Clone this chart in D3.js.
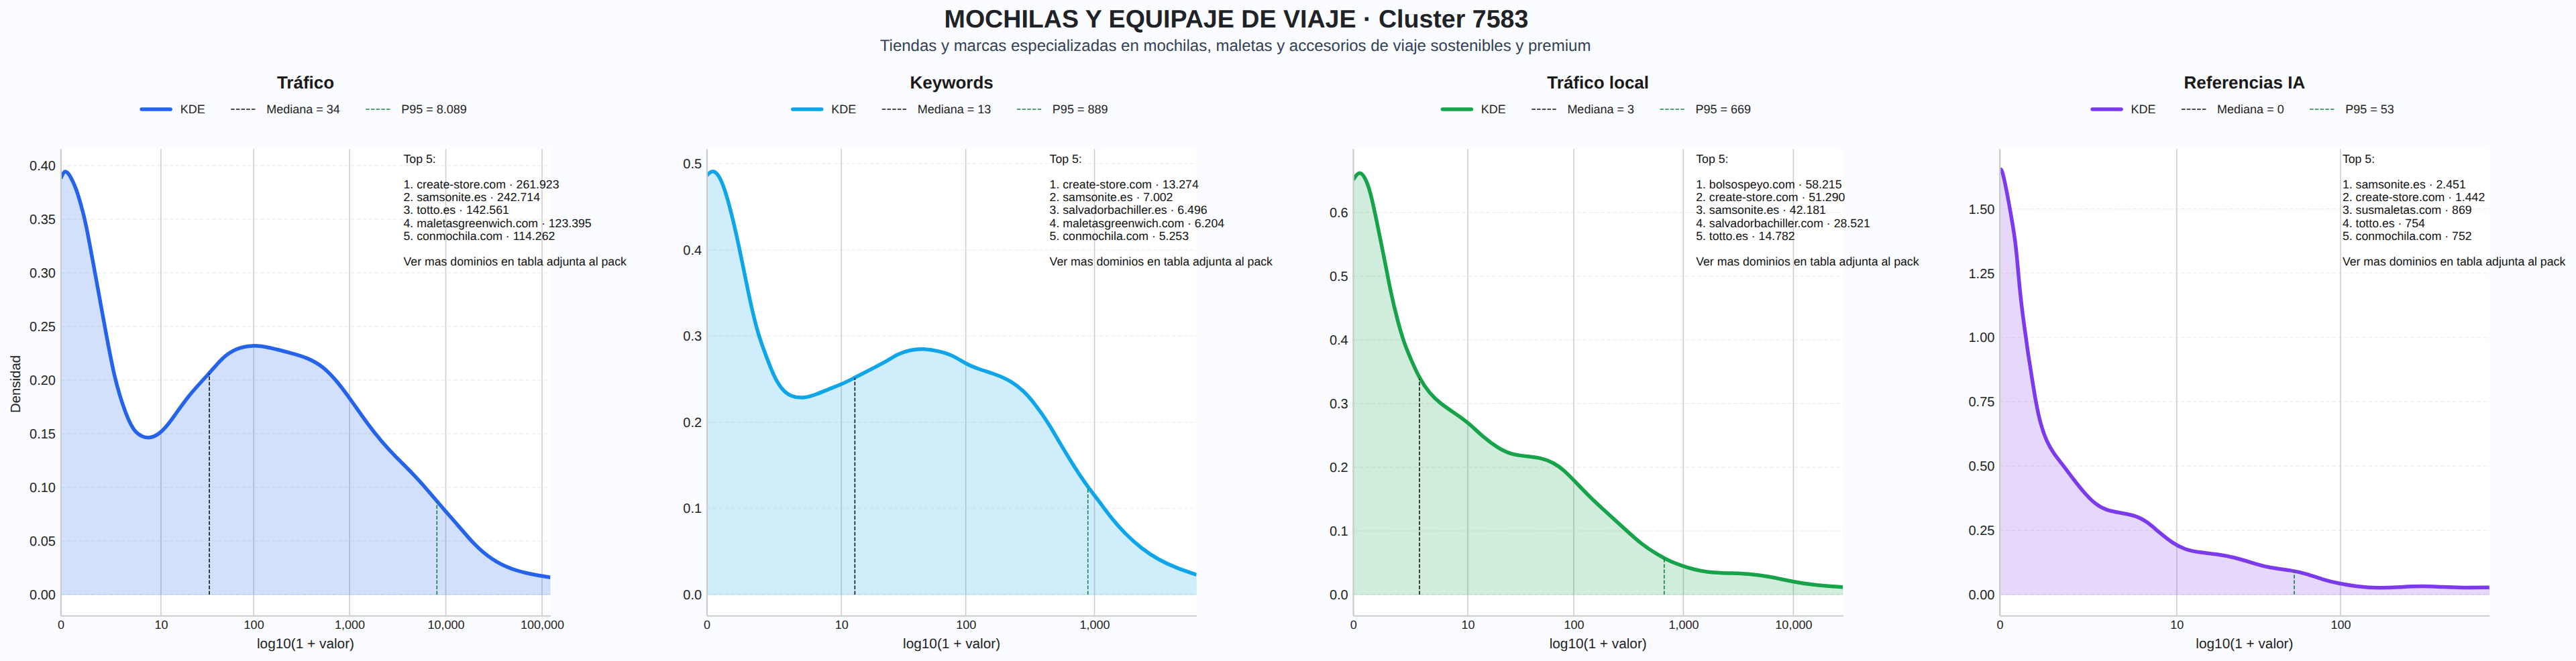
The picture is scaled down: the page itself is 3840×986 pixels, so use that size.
<!DOCTYPE html>
<html>
<head>
<meta charset="utf-8">
<script src="https://cdn.jsdelivr.net/npm/d3@7/dist/d3.min.js"></script>
<style>
  html, body { margin: 0; padding: 0; background: #fafcff; }
  svg { display: block; font-family: "Liberation Sans", Arial, sans-serif; text-rendering: geometricPrecision; }
</style>
</head>
<body>
<div id="chart"></div>
<script>
// values: x is log10(1 + valor), y is density
const traficoX = [0,0.044,0.102,0.16,0.213,0.258,0.356,0.458,0.56,0.68,0.77,0.916,1.05,1.17,1.325,1.547,1.68,1.814,1.992,2.17,2.39,2.57,2.726,2.88,3.015,3.19,3.34,3.48,3.66,3.815,3.97,4.126,4.3,4.48,4.66,4.88,5.087];
const traficoY = [0.388,0.397,0.39,0.379,0.3627,0.348,0.3,0.25,0.2,0.167,0.15,0.1444,0.151,0.165,0.1856,0.2065,0.221,0.2294,0.2329,0.2304,0.2252,0.2206,0.2127,0.198,0.1815,0.1587,0.1419,0.1283,0.1127,0.097,0.0804,0.0648,0.046,0.0325,0.0242,0.0189,0.016];
const keywordsX = [0,0.046,0.103,0.152,0.202,0.252,0.301,0.351,0.4,0.457,0.516,0.576,0.649,0.748,0.848,0.947,1.043,1.146,1.278,1.41,1.477,1.576,1.675,1.79,1.907,2.007,2.106,2.238,2.354,2.454,2.536,2.636,2.735,2.834,2.95,3.033,3.132,3.232,3.364,3.497,3.629,3.79];
const keywordsY = [0.4862,0.4935,0.485,0.4642,0.4357,0.402,0.3657,0.3297,0.3009,0.2776,0.2543,0.2387,0.2296,0.2276,0.2322,0.2387,0.2439,0.2517,0.262,0.2724,0.2791,0.2841,0.2854,0.2828,0.2776,0.2674,0.2615,0.2556,0.2478,0.2362,0.2219,0.2011,0.1752,0.1506,0.1246,0.1091,0.0884,0.0715,0.0534,0.0404,0.0313,0.0231];
const localX = [0,0.058,0.121,0.167,0.226,0.284,0.342,0.4,0.459,0.517,0.603,0.693,0.79,0.926,1.043,1.179,1.315,1.432,1.568,1.704,1.821,1.918,2.016,2.152,2.307,2.463,2.619,2.774,2.891,3.008,3.125,3.241,3.397,3.591,3.786,3.981,4.175,4.45];
const localY = [0.6509,0.6667,0.6509,0.6246,0.5755,0.5264,0.4738,0.4317,0.3966,0.3721,0.3388,0.316,0.3001,0.2844,0.2704,0.2476,0.2301,0.2202,0.2171,0.2149,0.2073,0.195,0.1775,0.1529,0.1284,0.1038,0.0792,0.0618,0.0512,0.0442,0.0382,0.035,0.0337,0.033,0.0284,0.0207,0.015,0.0119];
const iaX = [0,0.012,0.043,0.0753,0.0966,0.1176,0.1424,0.1684,0.1917,0.2126,0.2402,0.276,0.318,0.371,0.434,0.497,0.56,0.624,0.709,0.804,0.868,0.9416,1.016,1.09,1.174,1.28,1.385,1.47,1.575,1.723,1.808,1.892,1.998,2.104,2.23,2.357,2.484,2.61,2.716,2.88];
const iaY = [1.65,1.662,1.565,1.444,1.357,1.183,1.053,0.931,0.835,0.748,0.662,0.596,0.548,0.505,0.4485,0.396,0.353,0.3285,0.318,0.307,0.2834,0.24,0.2008,0.1747,0.1643,0.1573,0.1442,0.127,0.1051,0.0939,0.0808,0.06,0.0425,0.0313,0.0253,0.0295,0.0339,0.0295,0.0269,0.0279];

const titles = ["Tráfico", "Keywords", "Tráfico local", "Referencias IA"];
const colors = ["#2563eb", "#0ea5e9", "#16a34a", "#7c3aed"];
const medians = [34, 13, 3, 0];
const p95s = [8089, 889, 669, 53];
const p95Labels = ["8.089", "889", "669", "53"];
const xTicks = [
  [0, 10, 100, 1000, 10000, 100000],
  [0, 10, 100, 1000],
  [0, 10, 100, 1000, 10000],
  [0, 10, 100]
];
const yTicks = [
  [0, 0.05, 0.1, 0.15, 0.2, 0.25, 0.3, 0.35, 0.4],
  [0, 0.1, 0.2, 0.3, 0.4, 0.5],
  [0, 0.1, 0.2, 0.3, 0.4, 0.5, 0.6],
  [0, 0.25, 0.5, 0.75, 1, 1.25, 1.5]
];
const yFormats = [".2f", ".1f", ".1f", ".2f"];
const xMax = [5.087, 3.79, 4.45, 2.88];
const yDomains = [[-0.0196, 0.4154], [-0.0243, 0.5169], [-0.0329, 0.6993], [-0.0816, 1.7332]];
const topLines = [
  ["1. create-store.com · 261.923", "2. samsonite.es · 242.714", "3. totto.es · 142.561", "4. maletasgreenwich.com · 123.395", "5. conmochila.com · 114.262"],
  ["1. create-store.com · 13.274", "2. samsonite.es · 7.002", "3. salvadorbachiller.es · 6.496", "4. maletasgreenwich.com · 6.204", "5. conmochila.com · 5.253"],
  ["1. bolsospeyo.com · 58.215", "2. create-store.com · 51.290", "3. samsonite.es · 42.181", "4. salvadorbachiller.com · 28.521", "5. totto.es · 14.782"],
  ["1. samsonite.es · 2.451", "2. create-store.com · 1.442", "3. susmaletas.com · 869", "4. totto.es · 754", "5. conmochila.com · 752"]
];
const seriesX = [traficoX, keywordsX, localX, iaX];
const seriesY = [traficoY, keywordsY, localY, iaY];

const W = 3840, H = 986;
const panelLeft = [90.5, 1053.6, 2017.2, 2980.9];
const panelW = 730, panelTop = 222.3, panelBottom = 918.3;

const svg = d3.select("#chart").append("svg").attr("width", W).attr("height", H);
svg.append("rect").attr("width", W).attr("height", H).attr("fill", "#fafcff");

svg.append("text").attr("x", 1843).attr("y", 28).attr("text-anchor", "middle")
  .attr("dominant-baseline", "central")
  .attr("font-size", 37.6).attr("font-weight", "bold").attr("fill", "#1f2328")
  .text("MOCHILAS Y EQUIPAJE DE VIAJE · Cluster 7583");
svg.append("text").attr("x", 1841.6).attr("y", 68).attr("text-anchor", "middle")
  .attr("dominant-baseline", "central")
  .attr("font-size", 24).attr("fill", "#334155")
  .text("Tiendas y marcas especializadas en mochilas, maletas y accesorios de viaje sostenibles y premium");

// density at a given x, only used for the height of the marker lines
const densityAt = (xs, ys, v) => {
  const i = Math.min(Math.max(d3.bisectLeft(xs, v), 1), xs.length - 1);
  const t = (v - xs[i - 1]) / (xs[i] - xs[i - 1]);
  return ys[i - 1] + t * (ys[i] - ys[i - 1]);
};

titles.forEach((title, p) => {
  const g = svg.append("g").attr("transform", `translate(${panelLeft[p]},0)`);
  const x = d3.scaleLinear().domain([0, xMax[p]]).range([0, panelW]);
  const y = d3.scaleLinear().domain(yDomains[p]).range([panelBottom, panelTop]);
  const pts = d3.zip(seriesX[p], seriesY[p]);
  const logv = v => Math.log10(1 + v);

  g.append("rect").attr("y", panelTop).attr("width", panelW).attr("height", panelBottom - panelTop).attr("fill", "#fff");

  // grid
  g.append("g").selectAll("line").data(yTicks[p]).join("line")
    .attr("x1", 0).attr("x2", panelW).attr("y1", d => y(d)).attr("y2", d => y(d))
    .attr("stroke", "#f0f0f0").attr("stroke-width", 1.5).attr("stroke-dasharray", "6,3");
  g.append("g").selectAll("line").data(xTicks[p]).join("line")
    .attr("x1", d => x(logv(d))).attr("x2", d => x(logv(d)))
    .attr("y1", panelTop).attr("y2", panelBottom)
    .attr("stroke", "#cccccc").attr("stroke-width", 1.5);

  // kde
  const area = d3.area().x(d => x(d[0])).y0(y(0)).y1(d => y(d[1])).curve(d3.curveBasis);
  const line = d3.line().x(d => x(d[0])).y(d => y(d[1])).curve(d3.curveBasis);
  const clipId = `clip-${p}`;
  g.append("clipPath").attr("id", clipId).append("rect")
    .attr("y", panelTop).attr("width", panelW).attr("height", panelBottom - panelTop);
  const plot = g.append("g").attr("clip-path", `url(#${clipId})`);
  plot.append("path").datum(pts).attr("d", area)
    .attr("fill", colors[p]).attr("fill-opacity", 0.2)
    .attr("stroke", colors[p]).attr("stroke-opacity", 0.12).attr("stroke-width", 1.5);
  plot.append("path").datum(pts).attr("d", line)
    .attr("fill", "none").attr("stroke", colors[p]).attr("stroke-width", 5.5);

  // marker lines, from the baseline up to the curve
  [[medians[p], "#111111"], [p95s[p], "#15803d"]].forEach(([v, col]) => {
    const lx = logv(v);
    plot.append("line")
      .attr("x1", x(lx)).attr("x2", x(lx))
      .attr("y1", y(0)).attr("y2", y(densityAt(seriesX[p], seriesY[p], lx)))
      .attr("stroke", col).attr("stroke-width", 1.6).attr("stroke-dasharray", "5.5,2.5");
  });

  // axes
  const xAxis = d3.axisBottom(x).tickValues(xTicks[p].map(logv)).tickSize(0).tickPadding(7)
    .tickFormat((d, i) => d3.format(",")(xTicks[p][i]));
  const yAxis = d3.axisLeft(y).tickValues(yTicks[p]).tickSize(0).tickPadding(7.5)
    .tickFormat(d3.format(yFormats[p]));
  const gx = g.append("g").attr("transform", `translate(0,${panelBottom})`).call(xAxis);
  const gy = g.append("g").call(yAxis);
  [gx, gy].forEach((a, i) => {
    a.selectAll(".domain").attr("stroke", "#cccccc").attr("stroke-width", 2);
    a.selectAll("text").attr("font-size", i === 0 ? 18 : 20).attr("fill", "#222").attr("font-family", '"Liberation Sans", Arial, sans-serif');
  });

  g.append("text").attr("x", panelW / 2).attr("y", 960).attr("text-anchor", "middle")
    .attr("dominant-baseline", "central").attr("font-size", 20.8).attr("fill", "#222").text("log10(1 + valor)");
  if (p === 0) {
    g.append("text").attr("transform", `translate(${23.6 - panelLeft[0]},573) rotate(-90)`)
      .attr("text-anchor", "middle").attr("dominant-baseline", "central")
      .attr("font-size", 20.4).attr("fill", "#222").text("Densidad");
  }

  // top 5 note
  const note = ["Top 5:", "", ...topLines[p], "", "Ver mas dominios en tabla adjunta al pack"];
  g.append("g").selectAll("text").data(note).join("text")
    .attr("x", panelW * 0.7).attr("y", (d, i) => 236.6 + i * 19.2)
    .attr("dominant-baseline", "central").attr("font-size", 17.7).attr("fill", "#111").text(d => d);

  // panel title
  g.append("text").attr("x", panelW / 2).attr("y", 123).attr("text-anchor", "middle")
    .attr("dominant-baseline", "central").attr("font-size", 26).attr("font-weight", "bold").attr("fill", "#1a1a1a").text(title);

  // legend, laid out from the measured text and centred over the panel
  const items = [
    { label: "KDE", color: colors[p], width: 5.5, dash: null, len: 43 },
    { label: `Mediana = ${medians[p]}`, color: "#111111", width: 1.6, dash: "5.5,2.2", len: 38.5 },
    { label: `P95 = ${p95Labels[p]}`, color: "#15803d", width: 1.6, dash: "5.5,2.2", len: 38.5 }
  ];
  const leg = g.append("g");
  let cx = 0;
  items.forEach((it, i) => {
    leg.append("line").attr("x1", cx).attr("x2", cx + it.len).attr("y1", 163).attr("y2", 163)
      .attr("stroke", it.color).attr("stroke-width", it.width)
      .attr("stroke-dasharray", it.dash).attr("stroke-linecap", it.dash ? "butt" : "round");
    const t = leg.append("text").attr("x", cx + it.len + 14.5).attr("y", 163)
      .attr("dominant-baseline", "central").attr("font-size", 18).attr("fill", "#222").text(it.label);
    cx += it.len + 14.5 + t.node().getComputedTextLength() + (i < items.length - 1 ? 38.5 : 0);
  });
  leg.attr("transform", `translate(${panelW / 2 - cx / 2 - 2},0)`);
});
</script>
</body>
</html>
